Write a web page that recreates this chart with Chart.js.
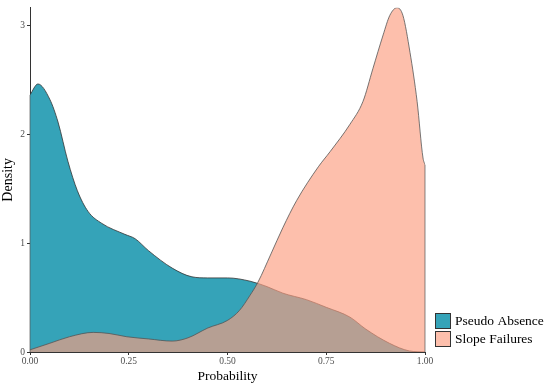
<!DOCTYPE html>
<html lang="en">
  <head>
    <meta charset="UTF-8" />
    <title>Density of probability</title>
    <script src="https://cdn.jsdelivr.net/npm/chart.js@4"></script>
    <style>
      html, body { margin: 0; padding: 0; background: #fff; }
      #wrap { width: 550px; height: 385px; }
    </style>
  </head>
  <body>
    <div id="wrap"><canvas id="myChart" width="550" height="385"></canvas></div>
    <script>
      // series
      const seriesNames = ["Pseudo Absence", "Slope Failures"];
      const absenceX = [0, 0.02, 0.05, 0.071, 0.096, 0.12, 0.147, 0.182, 0.24, 0.266, 0.3, 0.36, 0.41, 0.45, 0.5, 0.557, 0.6, 0.64, 0.7, 0.75, 0.81, 0.85, 0.91, 0.96, 1];
      const absenceY = [2.36, 2.46, 2.32, 2.11, 1.75, 1.48, 1.29, 1.18, 1.08, 1.04, 0.93, 0.77, 0.69, 0.68, 0.68, 0.65, 0.6, 0.54, 0.48, 0.41, 0.32, 0.21, 0.08, 0.01, 0];
      const failureX = [0, 0.05, 0.1, 0.16, 0.2, 0.245, 0.3, 0.36, 0.4, 0.45, 0.5, 0.53, 0.557, 0.577, 0.61, 0.64, 0.675, 0.73, 0.76, 0.81, 0.843, 0.868, 0.894, 0.911, 0.929, 0.944, 0.962, 0.98, 0.995, 1];
      const failureY = [0.02, 0.08, 0.14, 0.18, 0.17, 0.14, 0.12, 0.1, 0.13, 0.22, 0.29, 0.38, 0.52, 0.64, 0.9, 1.14, 1.39, 1.7, 1.84, 2.09, 2.3, 2.6, 2.91, 3.09, 3.16, 3.09, 2.75, 2.3, 1.78, 1.72];
      const xTicks = [0, 0.25, 0.5, 0.75, 1];
      const yTicks = [0, 1, 2, 3];

      const fillColors = ["rgb(53,163,184)", "rgba(252,157,128,0.65)"];
      const legendColors = ["rgb(53,163,184)", "rgb(253,191,172)"];
      const serif = "'Liberation Serif', 'DejaVu Serif', serif";

      function toPoints(xs, ys) {
        return xs.map((x, i) => ({ x: x, y: ys[i] }));
      }

      // vertical edges of the density areas at x = 0 and x = 1
      const edgePlugin = {
        id: "edges",
        afterDatasetsDraw(chart) {
          const { ctx, scales } = chart;
          const xs = scales.x, ys = scales.y;
          ctx.save();
          ctx.lineWidth = 0.7;
          ctx.strokeStyle = "#555";
          const segs = [
            [failureX[failureX.length - 1], failureY[failureY.length - 1]],
            [absenceX[0], absenceY[0]],
          ];
          segs.forEach(([x, y]) => {
            ctx.beginPath();
            ctx.moveTo(xs.getPixelForValue(x), ys.getPixelForValue(0));
            ctx.lineTo(xs.getPixelForValue(x), ys.getPixelForValue(y));
            ctx.stroke();
          });
          ctx.restore();
        },
        afterDraw(chart) {
          // legend on the right, bottom aligned
          const { ctx } = chart;
          ctx.save();
          ctx.font = "13.5px " + serif;
          ctx.textBaseline = "middle";
          seriesNames.forEach((name, i) => {
            const top = 313 + i * 18;
            ctx.fillStyle = legendColors[i];
            ctx.fillRect(435, top, 16, 16);
            ctx.strokeStyle = "#333";
            ctx.lineWidth = 1;
            ctx.strokeRect(435.5, top + 0.5, 15, 15);
            ctx.fillStyle = "#000";
            ctx.fillText(name, 455, top + 8.5);
          });
          ctx.restore();
        },
      };

      const ctx = document.getElementById("myChart").getContext("2d");
      const chart = new Chart(ctx, {
        type: "line",
        data: {
          datasets: [
            {
              label: seriesNames[0],
              data: toPoints(absenceX, absenceY),
              backgroundColor: fillColors[0],
              borderColor: "#333",
              borderWidth: 0.8,
              fill: "origin",
              pointRadius: 0,
              cubicInterpolationMode: "monotone",
              order: 2,
            },
            {
              label: seriesNames[1],
              data: toPoints(failureX, failureY),
              backgroundColor: fillColors[1],
              borderColor: "#555",
              borderWidth: 0.8,
              fill: "origin",
              pointRadius: 0,
              cubicInterpolationMode: "monotone",
              order: 1,
            },
          ],
        },
        options: {
          responsive: false,
          animation: false,
          layout: { padding: { top: 5, right: 125, left: 0, bottom: 0 } },
          plugins: {
            legend: { display: false },
            tooltip: { enabled: false },
          },
          scales: {
            x: {
              type: "linear",
              min: 0,
              max: 1,
              afterBuildTicks: (s) => { s.ticks = xTicks.map((v) => ({ value: v })); },
              afterFit: (s) => { s.height = 33; },
              grid: { drawOnChartArea: false, tickLength: 3, color: "#333" },
              border: { color: "#333", width: 1 },
              ticks: {
                padding: 1,
                maxRotation: 0,
                color: "#4d4d4d",
                font: { family: serif, size: 9.5 },
                callback: (v) => v.toFixed(2),
              },
              title: {
                display: true,
                text: "Probability",
                color: "#000",
                font: { family: serif, size: 13.5 },
                padding: { top: 0, bottom: 0 },
              },
            },
            y: {
              min: 0,
              max: 3.16,
              afterBuildTicks: (s) => { s.ticks = yTicks.map((v) => ({ value: v })); },
              afterFit: (s) => { s.width = 30; },
              grid: { drawOnChartArea: false, tickLength: 3, color: "#333" },
              border: { color: "#333", width: 1 },
              ticks: {
                padding: 2,
                color: "#4d4d4d",
                font: { family: serif, size: 9.5 },
              },
              title: {
                display: true,
                text: "Density",
                color: "#000",
                font: { family: serif, size: 14 },
                padding: { top: 0, bottom: 0 },
              },
            },
          },
        },
        plugins: [edgePlugin],
      });
    </script>
  </body>
</html>
